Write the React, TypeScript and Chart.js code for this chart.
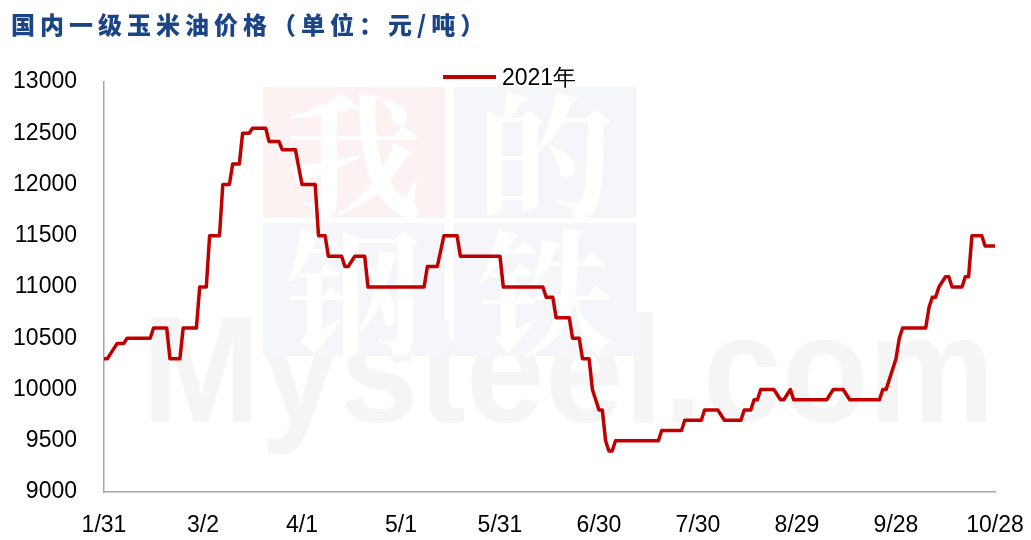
import React, { useEffect, useRef } from "react";
import { Chart, registerables } from "chart.js";

Chart.register(...registerables);

// ---------- data ----------
const chartTitle = "国内一级玉米油价格（单位：元/吨）";
const seriesName = "2021年";
const baseDate = "1/31";
const xTickLabels = ["1/31", "3/2", "4/1", "5/1", "5/31", "6/30", "7/30", "8/29", "9/28", "10/28"];
const yMin = 9000;
const yMax = 13000;
const yStep = 500;

const dates = [
  "1/31", "2/1", "2/4", "2/6", "2/7", "2/14", "2/15", "2/19", "2/20", "2/23",
  "2/24", "2/28", "3/1", "3/3", "3/4", "3/7", "3/8", "3/10", "3/11", "3/13",
  "3/14", "3/16", "3/17", "3/21", "3/22", "3/25", "3/26", "3/30", "4/1", "4/5",
  "4/6", "4/8", "4/9", "4/13", "4/14", "4/15", "4/17", "4/20", "4/21", "5/8",
  "5/9", "5/12", "5/14", "5/18", "5/19", "5/31", "6/1", "6/13", "6/14", "6/16",
  "6/17", "6/21", "6/22", "6/24", "6/25", "6/27", "6/28", "6/30", "7/1", "7/2",
  "7/3", "7/4", "7/5", "7/18", "7/19", "7/25", "7/26", "7/31", "8/1", "8/5",
  "8/7", "8/12", "8/13", "8/15", "8/16", "8/17", "8/18", "8/22", "8/24", "8/25",
  "8/27", "8/28", "9/7", "9/9", "9/12", "9/14", "9/23", "9/24", "9/25", "9/28",
  "9/29", "9/30", "10/7", "10/8", "10/9", "10/10", "10/11", "10/13", "10/14", "10/15",
  "10/18", "10/19", "10/20", "10/21", "10/24", "10/25", "10/28",
];
const prices = [
  10300, 10300, 10450, 10450, 10500, 10500, 10600, 10600, 10300, 10300,
  10600, 10600, 11000, 11000, 11500, 11500, 12000, 12000, 12200, 12200,
  12500, 12500, 12550, 12550, 12420, 12420, 12340, 12340, 12000, 12000,
  11500, 11500, 11300, 11300, 11200, 11200, 11300, 11300, 11000, 11000,
  11200, 11200, 11500, 11500, 11300, 11300, 11000, 11000, 10900, 10900,
  10700, 10700, 10500, 10500, 10300, 10300, 10000, 9800, 9800, 9500,
  9400, 9400, 9500, 9500, 9600, 9600, 9700, 9700, 9800, 9800,
  9700, 9700, 9800, 9800, 9900, 9900, 10000, 10000, 9900, 9900,
  10000, 9900, 9900, 10000, 10000, 9900, 9900, 10000, 10000, 10300,
  10500, 10600, 10600, 10800, 10900, 10900, 11000, 11100, 11100, 11000,
  11000, 11100, 11100, 11500, 11500, 11400, 11400,
];

// ---------- helpers ----------
function toUTC(md: string) {
  const [m, d] = md.split("/").map(Number);
  return Date.UTC(2021, m - 1, d);
}
function dayIndex(md: string) {
  return (toUTC(md) - toUTC(baseDate)) / 86400000;
}

const FONT = "'Liberation Sans', Arial, sans-serif";

const watermarkPlugin = {
  id: "watermark",
  beforeDraw(chart: any) {
    const ctx: CanvasRenderingContext2D = chart.ctx;
    ctx.save();
    ctx.fillStyle = "#f5f5f5";
    ctx.font = `bold 100px ${FONT}`;
    const w = ctx.measureText("Mysteel.com").width;
    const size = (100 * 853) / w;
    ctx.font = `bold ${size}px ${FONT}`;
    ctx.textAlign = "left";
    ctx.textBaseline = "alphabetic";
    const capH = size * 0.716;
    ctx.translate(142, 422);
    ctx.scale(1, 109 / capH);
    ctx.fillText("Mysteel.com", 0, 0);
    ctx.restore();

    ctx.save();
    const tiles = [
      { x: 263, y: 87, w: 182, h: 131, c: "#fdf2f2", t: "我" },
      { x: 454, y: 87, w: 183, h: 131, c: "#f4f6fa", t: "的" },
      { x: 263, y: 223, w: 182, h: 133, c: "#f4f6fa", t: "钢" },
      { x: 454, y: 223, w: 183, h: 133, c: "#f4f6fa", t: "铁" },
    ];
    ctx.textAlign = "center";
    ctx.textBaseline = "middle";
    ctx.font = `bold 136px 'Noto Serif CJK SC', 'Noto Sans CJK SC', serif`;
    for (const t of tiles) {
      ctx.fillStyle = t.c;
      ctx.fillRect(t.x, t.y, t.w, t.h);
      ctx.fillStyle = "#ffffff";
      ctx.fillText(t.t, t.x + t.w / 2, t.y + t.h / 2 + 4);
    }
    ctx.restore();
  },
};

export default function App() {
  const canvasRef = useRef<HTMLCanvasElement | null>(null);

  useEffect(() => {
    if (!canvasRef.current) return;
    const points = dates.map((d, i) => ({ x: dayIndex(d), y: prices[i] }));
    const chart = new Chart(canvasRef.current, {
      type: "line",
      data: {
        datasets: [
          {
            label: seriesName,
            data: points,
            borderColor: "#c00000",
            backgroundColor: "#c00000",
            borderWidth: 3.5,
            pointRadius: 0,
            tension: 0,
            borderJoinStyle: "round",
            borderCapStyle: "round",
          },
        ],
      },
      options: {
        animation: false,
        responsive: true,
        maintainAspectRatio: false,
        layout: { padding: { left: 0, right: 36, top: 82, bottom: 0 } },
        plugins: {
          legend: { display: false },
          title: { display: false },
          tooltip: { enabled: false },
        },
        scales: {
          x: {
            type: "linear",
            min: 0,
            max: dayIndex(xTickLabels[xTickLabels.length - 1]),
            afterBuildTicks: (scale: any) => {
              scale.ticks = xTickLabels.map((l) => ({ value: dayIndex(l) }));
            },
            afterFit: (scale: any) => {
              scale.height = 48;
              scale.paddingLeft = 0;
              scale.paddingRight = 0;
            },
            grid: { display: true, drawOnChartArea: false, drawTicks: false },
            border: { display: true, color: "#a6a6a6", width: 1.5 },
            ticks: {
              padding: 20,
              color: "#000",
              font: { family: FONT, size: 23 },
              maxRotation: 0,
              autoSkip: false,
              callback: (_v: any, i: number) => xTickLabels[i],
            },
          },
          y: {
            min: yMin,
            max: yMax,
            afterFit: (scale: any) => {
              scale.width = 104;
            },
            grid: { display: true, drawOnChartArea: false, drawTicks: false },
            border: { display: true, color: "#a6a6a6", width: 1.5 },
            ticks: {
              stepSize: yStep,
              padding: 27,
              color: "#000",
              font: { family: FONT, size: 23 },
              callback: (v: any) => String(v),
            },
          },
        },
      },
      plugins: [watermarkPlugin],
    });
    return () => chart.destroy();
  }, []);

  return (
    <div
      style={{
        position: "absolute",
        left: 0,
        top: 0,
        width: 1031,
        height: 540,
        background: "#ffffff",
        overflow: "hidden",
      }}
    >
      <canvas ref={canvasRef} style={{ position: "absolute", left: 0, top: 0, width: 1031, height: 540 }} />
      <div
        style={{
          position: "absolute",
          left: 11,
          top: 11,
          fontFamily: "'Noto Sans CJK SC', sans-serif",
          fontWeight: 900,
          fontSize: 24,
          lineHeight: "26px",
          letterSpacing: "5px",
          color: "#1c4587",
          whiteSpace: "nowrap",
        }}
      >
        {chartTitle}
      </div>
      <div
        style={{
          position: "absolute",
          left: 443,
          top: 64,
          height: 26,
          display: "flex",
          alignItems: "center",
          whiteSpace: "nowrap",
        }}
      >
        <div style={{ width: 53, height: 4, background: "#c00000", marginRight: 6 }} />
        <span style={{ fontFamily: FONT, fontSize: 23, color: "#000", lineHeight: "26px" }}>{seriesName}</span>
      </div>
    </div>
  );
}
